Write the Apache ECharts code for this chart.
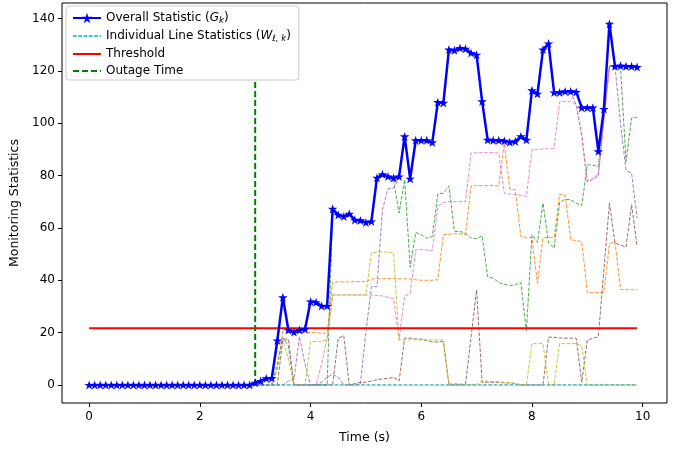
<!DOCTYPE html>
<html><head><meta charset="utf-8">
<script src="https://cdn.jsdelivr.net/npm/echarts@6/dist/echarts.min.js"></script>
<style>html,body{margin:0;padding:0;background:#fff}#c{width:681px;height:449px}</style>
</head><body><div id="c"></div>
<script>
const TIME = [0.0,0.1,0.2,0.3,0.4,0.5,0.6,0.7,0.8,0.9,1.0,1.1,1.2,1.3,1.4,1.5,1.6,1.7,1.8,1.9,
2.0,2.1,2.2,2.3,2.4,2.5,2.6,2.7,2.8,2.9,3.0,3.1,3.2,3.3,3.4,3.5,3.6,3.7,3.8,3.9,
4.0,4.1,4.2,4.3,4.4,4.5,4.6,4.7,4.8,4.9,5.0,5.1,5.2,5.3,5.4,5.5,5.6,5.7,5.8,5.9,
6.0,6.1,6.2,6.3,6.4,6.5,6.6,6.7,6.8,6.9,7.0,7.1,7.2,7.3,7.4,7.5,7.6,7.7,7.8,7.9,
8.0,8.1,8.2,8.3,8.4,8.5,8.6,8.7,8.8,8.9,9.0,9.1,9.2,9.3,9.4,9.5,9.6,9.7,9.8,9.9];

const GK = [0,0,0,0,0,0,0,0,0,0,0,0,0,0,0,0,0,0,0,0,0,0,0,0,0,0,0,0,0,0,
0.8,1.5,2.5,2.6,17,33.5,21,20.2,21,21.3,
31.9,31.6,30.2,30.2,67.3,65,64.4,65.4,63.1,62.9,
62.1,62.5,79.2,80.5,79.7,79.1,79.7,95,78.8,93.5,
93.5,93.5,92.7,108.1,107.8,128.2,127.9,128.8,128.5,126.9,
126.2,108.4,93.7,93.5,93.5,93.3,92.8,93.1,95,93.7,
112.6,111.3,128.2,130.5,111.8,111.8,112.2,112.2,112,106,
106,106,89.3,105.5,138,121.8,122,121.8,121.8,121.5];

// individual line statistics, t = 3.0 ... 9.9
const W_ORANGE = [0,0,0,0,6,20.5,20.3,20.3,20.2,20,
20,20,19.8,19.8,39.3,39.4,39.4,39.4,39.5,39.5,
39.5,40.5,40.6,40.6,40.7,40.7,40.6,40.6,40.5,40.2,
40,40,40,40.2,57.4,57.6,57.8,57.8,57.5,76,
76.2,76.2,76.2,76.2,76,92.3,74.9,74.6,56.7,56.4,
56.4,38.9,56.3,56.3,56.3,72.8,72.6,55.5,55.2,54.8,
35.3,35.3,35.3,35.3,53.9,54.8,36.5,36.4,36.4,36.4];
const W_GREEN = [0,0,0,0,8,18,15,0,0,0,
0,0,0,0,66.8,64.5,64,65,62.6,62.4,
61.6,62,78.7,80,79.2,78,65.7,78.5,45,58.3,
57.4,56.1,56.7,73,73.3,76.1,58.7,58.7,58,56.1,
56,57,41.4,40.8,39.2,38.5,38,38.3,39.1,20.6,
57.4,54.5,69.5,54.2,52.3,69.8,71,70.8,69.5,68.6,
84.2,84,83.5,103,122,122,121.5,85.4,102,102.4];
const W_PINK = [0,0,0,0,15,17.2,17,0,0,0,
0,0,8,18,34.4,34.4,34.4,34.4,34.4,34.4,
34.4,34.4,34.2,34,33.5,33,17.2,34,35,51.6,
51.8,51.6,51.3,68.2,69.7,70,70.1,70.1,70.1,88.6,
88.8,88.8,88.8,88.8,88.6,73.3,73,72.8,72.5,72,
89.9,90,90.2,90.3,90.5,108.2,108.4,108.4,107.1,96,
78,79,80.5,101,121.5,121.5,121.5,121.5,121.5,121.5];
const W_PURPLE = [0,0,0,0,0,0,1.5,2,18.5,8,
0,0,1,3,4,3,0,0,0,0.5,
20,37.6,37.6,67,75,75.2,79,94.5,78.3,93,
93,93,92.2,107.6,107.3,127.7,127.4,128.3,128,126.4,
125.7,107.9,93.2,93,93,92.8,92.3,92.6,94.5,93.2,
112.1,110.8,127.7,130,111.3,111.3,111.7,111.7,107,95,
77.5,78.5,80,101,122,122,100,82,81,63.8];
const W_BROWN = [0,0,0,0,0,17.5,17.5,0,0,0,
0,0,0,0,0,17.9,18.9,0,0.5,1,
1,1.5,2,2.3,2.5,2.9,1.5,17.9,17.9,17.6,
17.5,17,16.4,16.4,16.6,0,0,0,0.3,18.2,
36.3,1,1,1,1,0.8,0.8,0.5,0,0,
0,0,0,18.3,18.2,18,17.9,17.9,17.8,1,
17.2,17.8,18.5,44,69.5,54.2,53.5,52.7,68.9,52.9];
const W_OLIVE = [0,0,0,0,17,17,10,0,0,0,
16.6,16.6,16.8,17.2,34.4,34.4,34.4,34.4,34.4,34.4,
34.4,50.6,50.8,50.8,50.8,50.6,17.2,17.2,17.2,17.2,
17.2,17.2,17.2,17.2,17.2,0.5,0.5,0.5,0,0,
0.3,1.5,1.5,1.3,1.2,1,0.8,0.5,0,0,
15.8,15.8,15.8,0,0,15.8,15.8,15.8,15.8,15,
0,0,0,0,0,0,0,0,0,0];
const W_GRAY = [0,0,0,0,0,0,0,0,0,0,0,0,0,0,0,0,0,0,0,0,0,0,0,0,0,0,0,0,0,0,0,0,0,0,0,
0,0,0,0,0,0,0,0,0,0,0,0,0,0,0,0,0,0,0,0,0,0,0,0,0,0,0,0,0,0,0,0,0,0,0];
const W_CYAN = [0,0,0,0,0,0,0,0,0,0,0,0,0,0,0,0,0,0,0,0,0,0,0,0,0,0,0,0,0,0,0,0,0,0,0,
0,0,0,0,0,0,0,0,0,0,0,0,0,0,0,0,0,0,0,0,0,0,0,0,0,0,0,0,0,0,0,0,0,0,0];

const THRESHOLD = 21.7;
const OUTAGE_TIME = 3.0;
const OUTAGE_SPAN = [0, 140];
const X_TICKS = [0, 2, 4, 6, 8, 10];
const Y_TICKS = [0, 20, 40, 60, 80, 100, 120, 140];

const NAME_G = 'Overall Statistic (Gk)';
const NAME_W = 'Individual Line Statistics (Wl,k)';
const NAME_T = 'Threshold';
const NAME_O = 'Outage Time';

const FONT = 'DejaVu Sans';
const T_IND = TIME.slice(30);
const pairs = (xs, ys) => ys.map((v, i) => [xs[i], v]);

const STAR = 'path://M0,-10L2.245,-3.09L9.51,-3.09L3.633,1.18L5.878,8.09L0,3.82L-5.878,8.09L-3.633,1.18L-9.51,-3.09L-2.245,-3.09Z';

function indSeries(name, color, data) {
  return {
    name: name, type: 'line', data: pairs(T_IND, data), symbol: 'none', z: 2,
    lineStyle: { color: color, width: 1, type: [3.7, 1.6], opacity: 0.85 },
    itemStyle: { color: color }, silent: true
  };
}
const NOSYM = { color: 'rgba(0,0,0,0)', borderWidth: 0, borderColor: 'rgba(0,0,0,0)' };

const chart = echarts.init(document.getElementById('c'), null, { renderer: 'canvas' });
chart.setOption({
  animation: false,
  textStyle: { fontFamily: FONT },
  grid: { left: 62, right: 14, top: 3, bottom: 46, show: true, borderColor: '#000', borderWidth: 1, backgroundColor: 'transparent' },
  xAxis: {
    type: 'value', min: -0.49, max: 10.44,
    name: 'Time (s)', nameLocation: 'middle', nameGap: 28,
    nameTextStyle: { fontFamily: FONT, fontSize: 12.5, color: '#000' },
    axisLine: { show: false, onZero: false },
    axisTick: { show: true, inside: false, length: 4, customValues: X_TICKS, lineStyle: { color: '#000' } },
    axisLabel: { customValues: X_TICKS, margin: 8, fontFamily: FONT, fontSize: 12, color: '#000' },
    splitLine: { show: false }
  },
  yAxis: {
    type: 'value', min: -6.9, max: 146,
    name: 'Monitoring Statistics', nameLocation: 'middle', nameGap: 36,
    nameTextStyle: { fontFamily: FONT, fontSize: 12.5, color: '#000' },
    axisLine: { show: false, onZero: false },
    axisTick: { show: true, inside: false, length: 4, customValues: Y_TICKS, lineStyle: { color: '#000' } },
    axisLabel: { customValues: Y_TICKS, margin: 7, fontFamily: FONT, fontSize: 12, color: '#000' },
    splitLine: { show: false }
  },
  legend: {
    data: [NAME_G, { name: NAME_W, itemStyle: NOSYM }, { name: NAME_T, itemStyle: NOSYM }, { name: NAME_O, itemStyle: NOSYM }],
    orient: 'vertical', left: 66, top: 6,
    padding: [6, 8, 3, 6], itemGap: 5, itemWidth: 28, itemHeight: 13,
    backgroundColor: '#fff', borderColor: '#cccccc', borderWidth: 1, borderRadius: 3,
    textStyle: {
      fontFamily: FONT, fontSize: 12, color: '#000',
      rich: {
        t: { fontFamily: FONT, fontSize: 12, color: '#000', lineHeight: 14 },
        it: { fontFamily: FONT, fontSize: 12, fontStyle: 'italic', color: '#000', lineHeight: 14 },
        sub: { fontFamily: FONT, fontSize: 8.5, fontStyle: 'italic', color: '#000', verticalAlign: 'bottom', lineHeight: 10 }
      }
    },
    formatter: function (name) {
      if (name === NAME_G) return '{t|Overall Statistic (}{it|G}{sub|k}{t|)}';
      if (name === NAME_W) return '{t|Individual Line Statistics (}{it|W}{sub|\u2113, k}{t|)}';
      return '{t|' + name + '}';
    }
  },
  series: [
    indSeries('w_orange', '#ff7f0e', W_ORANGE),
    indSeries('w_green', '#2ca02c', W_GREEN),
    indSeries('w_purple', '#9467bd', W_PURPLE),
    indSeries('w_brown', '#8c564b', W_BROWN),
    indSeries('w_pink', '#e377c2', W_PINK),
    indSeries('w_gray', '#7f7f7f', W_GRAY),
    indSeries('w_olive', '#bcbd22', W_OLIVE),
    indSeries(NAME_W, '#17becf', W_CYAN),
    {
      name: NAME_T, type: 'line', symbol: 'none', z: 3,
      data: [[TIME[0], THRESHOLD], [TIME[TIME.length - 1], THRESHOLD]],
      lineStyle: { color: '#ff0000', width: 2 }, itemStyle: { color: '#ff0000' }
    },
    {
      name: NAME_O, type: 'line', symbol: 'none', z: 3,
      data: [[OUTAGE_TIME, OUTAGE_SPAN[0]], [OUTAGE_TIME, OUTAGE_SPAN[1]]],
      lineStyle: { color: '#008000', width: 2, type: [6, 3] }, itemStyle: { color: '#008000' }
    },
    {
      name: NAME_G, type: 'line', data: pairs(TIME, GK), z: 4,
      symbol: STAR, symbolSize: 9.5, symbolKeepAspect: true, showAllSymbol: true,
      lineStyle: { color: '#0000ff', width: 2.5 },
      itemStyle: { color: '#0000ff', borderWidth: 0 }
    }
  ]
});
</script></body></html>
